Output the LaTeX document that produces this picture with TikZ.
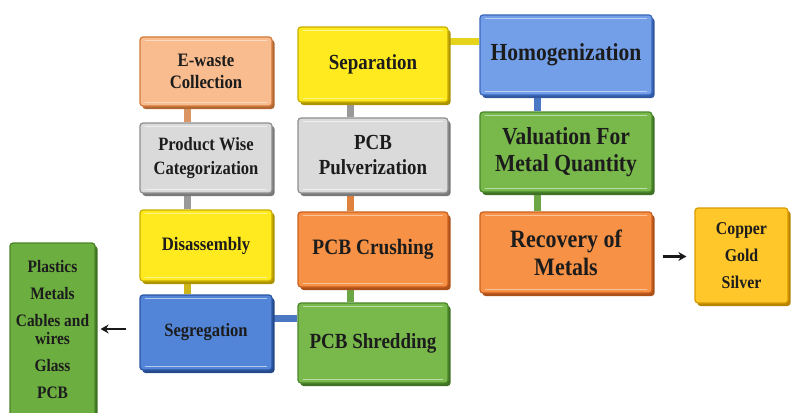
\documentclass[tikz,border=0pt]{standalone}
\usepackage{fontspec}
\setmainfont[FakeStretch=0.88]{Liberation Serif}
\usetikzlibrary{calc,arrows.meta,shadows,backgrounds}
\definecolor{ewfill}{HTML}{F9BC8F}\definecolor{ewedge}{HTML}{D27A3C}
\definecolor{gyfill}{HTML}{DADADA}\definecolor{gyedge}{HTML}{8E8E8E}
\definecolor{ylfill}{HTML}{FFEA1F}\definecolor{yledge}{HTML}{C9AE00}
\definecolor{sbfill}{HTML}{5285D8}\definecolor{sbedge}{HTML}{2B56A3}
\definecolor{hbfill}{HTML}{739FE8}\definecolor{hbedge}{HTML}{3A67BC}
\definecolor{orfill}{HTML}{F79145}\definecolor{oredge}{HTML}{C95F1E}
\definecolor{grfill}{HTML}{79B94B}\definecolor{gredge}{HTML}{4A862A}
\definecolor{cpfill}{HTML}{FFC72A}\definecolor{cpedge}{HTML}{D99A00}
\definecolor{lsfill}{HTML}{6CAE40}\definecolor{lsedge}{HTML}{4A8428}
\definecolor{txtc}{HTML}{1C1C1C}
\newcommand\hlight[2]{%
  \draw[#2, line width=1.4pt, line cap=round] ([shift={(6pt,4pt)}]#1.south west) -- ([shift={(-6pt,4pt)}]#1.south east);
  \draw[#2, line width=1.4pt, line cap=round] ([shift={(6pt,-4pt)}]#1.north west) -- ([shift={(-6pt,-4pt)}]#1.north east);}
\newcommand\fs[2]{\fontsize{#1}{#2}\selectfont\bfseries}
\begin{document}
\begin{tikzpicture}[x=1pt,y=-1pt,
  pbox/.style 2 args={draw=#2, line width=1.2pt, fill=#1, rounded corners=3pt,
    general shadow={fill=#2!85!black, shadow xshift=2.5pt, shadow yshift=-3pt},
    align=center, inner sep=2pt, text=txtc},
  bar/.style={line width=7pt, draw=#1},
  arr/.style={-{Stealth[length=8pt,width=9pt]}, line width=2.6pt, black!90}]
\useasboundingbox (0,0) rectangle (791,412);
% column 1
\node[pbox={ewfill}{ewedge}, minimum width=132, minimum height=69, font=\fs{19}{22}] (ew) at (206,71.5)
  {E-waste\\Collection};
\node[pbox={gyfill}{gyedge}, minimum width=132, minimum height=70, font=\fs{18.8}{24}] (pwc) at (206,158)
  {Product Wise\\Categorization};
\node[pbox={ylfill}{yledge}, minimum width=132, minimum height=71, font=\fs{19}{22}] (dis) at (206,245.5)
  {Disassembly};
\node[pbox={sbfill}{sbedge}, minimum width=132, minimum height=75, font=\fs{18.8}{22}] (seg) at (206,332.5)
  {Segregation};
% column 2
\node[pbox={ylfill}{yledge}, minimum width=150, minimum height=75, font=\fs{21.5}{24}] (sep) at (373,64.5)
  {Separation};
\node[pbox={gyfill}{gyedge}, minimum width=150, minimum height=75, font=\fs{21.5}{25}] (pul) at (373,155.5)
  {PCB\\Pulverization};
\node[pbox={orfill}{oredge}, minimum width=150, minimum height=75, font=\fs{22}{24}] (cru) at (373,249.5)
  {PCB Crushing};
\node[pbox={grfill}{gredge}, minimum width=150, minimum height=80, font=\fs{21.6}{24}] (shr) at (373,343)
  {PCB Shredding};
% column 3
\node[pbox={hbfill}{hbedge}, minimum width=172, minimum height=80, font=\fs{24.5}{27}] (hom) at (566,55)
  {Homogenization};
\node[pbox={grfill}{gredge}, minimum width=172, minimum height=80, font=\fs{24.5}{27}] (val) at (566,152)
  {Valuation For\\Metal Quantity};
\node[pbox={orfill}{oredge}, minimum width=172, minimum height=81, font=\fs{25}{28}] (rec) at (566,252.5)
  {Recovery of\\Metals};
% outputs
\node[pbox={cpfill}{cpedge}, minimum width=93, minimum height=95, font=\fs{18}{18}] (cgs) at (741.5,255.5)
  {Copper\\[9pt]Gold\\[9pt]Silver};
\node[pbox={lsfill}{lsedge}, minimum width=85, minimum height=174, font=\fs{17.5}{18}] (lst) at (52.5,330)
  {Plastics\\[9pt]Metals\\[9pt]Cables and\\wires\\[9pt]Glass\\[9pt]PCB};
% highlights
\hlight{ew}{ewfill!55!white}
\hlight{pwc}{gyfill!45!white}
\hlight{dis}{ylfill!50!white}
\hlight{seg}{sbfill!45!white}
\hlight{sep}{ylfill!50!white}
\hlight{pul}{gyfill!45!white}
\hlight{cru}{orfill!55!white}
\hlight{shr}{grfill!50!white}
\hlight{hom}{hbfill!50!white}
\hlight{val}{grfill!50!white}
\hlight{rec}{orfill!55!white}
% connectors
\begin{scope}[on background layer]
\draw[bar=ewedge!80!white] ([xshift=-19pt]ew.south) -- ([xshift=-19pt]pwc.north);
\draw[bar=gyedge!90!white] ([xshift=-19pt]pwc.south) -- ([xshift=-19pt]dis.north);
\draw[bar=yledge!90!white] ([xshift=-19pt]dis.south) -- ([xshift=-19pt]seg.north);
\draw[bar=gyedge!90!white] ([xshift=-23pt]sep.south) -- ([xshift=-23pt]pul.north);
\draw[bar=orfill!90!black] ([xshift=-23pt]pul.south) -- ([xshift=-23pt]cru.north);
\draw[bar=grfill!90!black] ([xshift=-23pt]cru.south) -- ([xshift=-23pt]shr.north);
\draw[bar=sbfill!90!black] ([yshift=14.5pt]seg.east) -- ([yshift=25pt]shr.west);
\draw[bar=ylfill!90!black] ([yshift=22.5pt]sep.east) -- ([yshift=13pt]hom.west);
\draw[bar=sbfill!90!black] ([xshift=-29pt]hom.south) -- ([xshift=-29pt]val.north);
\draw[bar=grfill!90!black] ([xshift=-29pt]val.south) -- ([xshift=-29pt]rec.north);
\end{scope}
% arrows
\draw[arr] ([xshift=-13pt,yshift=3.5pt]seg.west) -- ([xshift=5pt,yshift=3.5pt]seg.west -| lst.east);
\draw[arr] ([xshift=10pt,yshift=-4pt]rec.east) -- ([xshift=-8pt,yshift=-4pt]rec.east -| cgs.west);
\end{tikzpicture}
\end{document}
